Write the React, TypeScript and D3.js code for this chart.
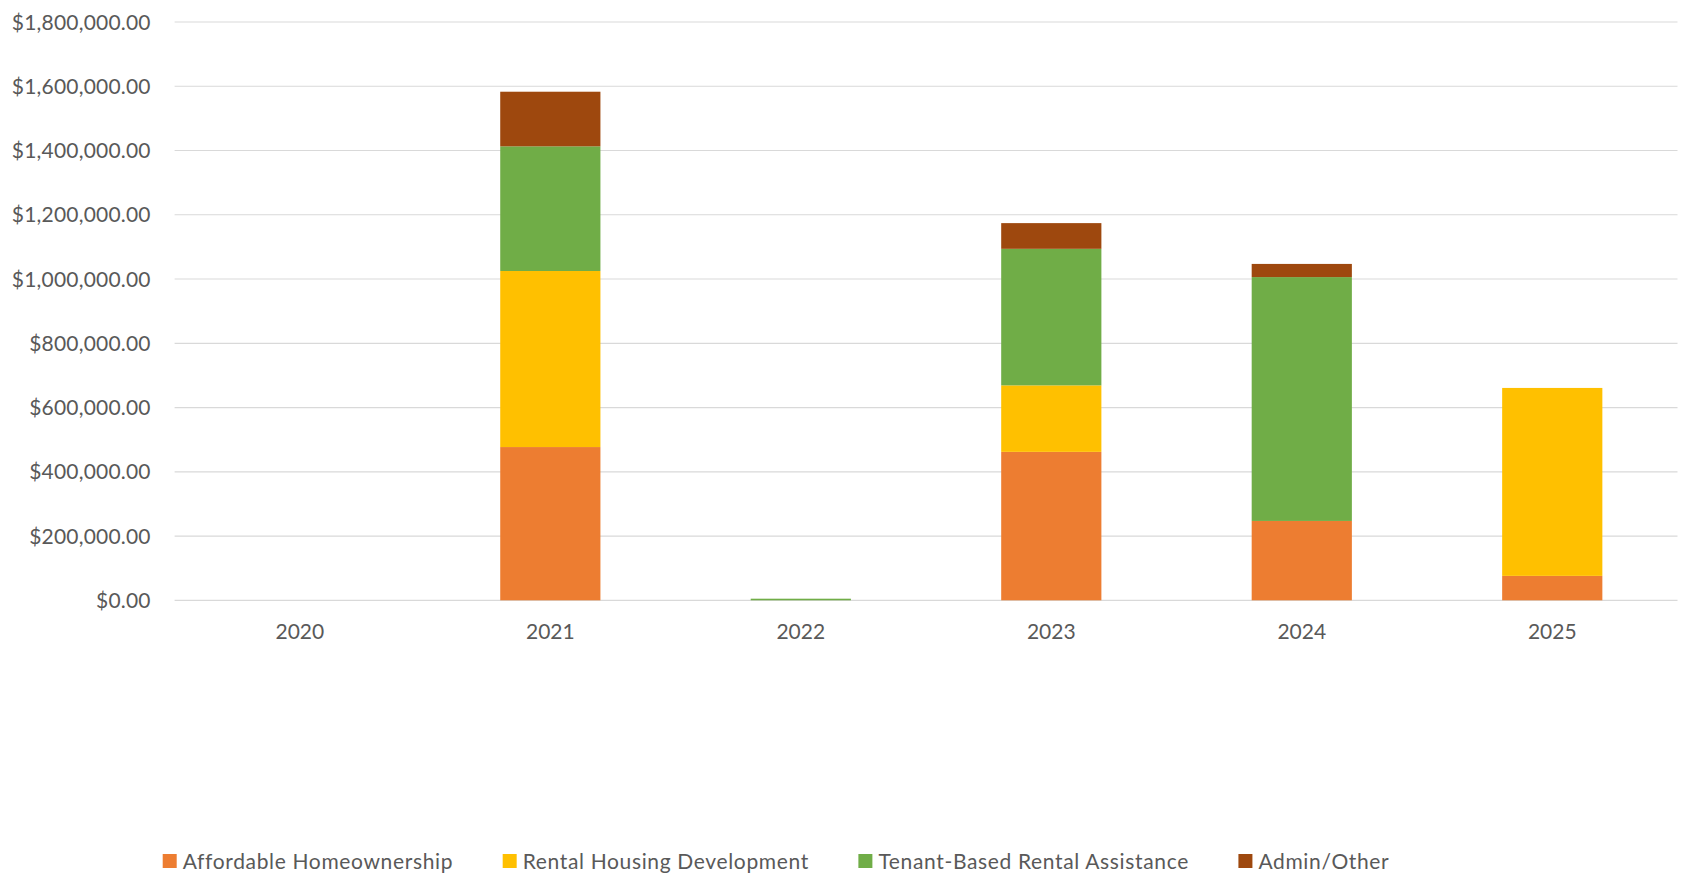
import React, { useEffect, useRef } from "react";
import * as d3 from "d3";

const years = ["2020", "2021", "2022", "2023", "2024", "2025"];
const affordableHomeownership = [0, 477000, 0, 462000, 247000, 76000];
const rentalHousingDevelopment = [0, 548000, 0, 207000, 0, 585000];
const tenantBasedRentalAssistance = [0, 388000, 5000, 425000, 759000, 0];
const adminOther = [0, 170000, 0, 80000, 41000, 0];
const seriesNames = [
  "Affordable Homeownership",
  "Rental Housing Development",
  "Tenant-Based Rental Assistance",
  "Admin/Other",
];
const seriesColors = ["#ED7D31", "#FFC000", "#70AD47", "#9E480E"];
const yTicks = [0, 200000, 400000, 600000, 800000, 1000000, 1200000, 1400000, 1600000, 1800000];

const W = 1687;
const H = 873;
const FONT = "Lato, 'Open Sans', sans-serif";
const TEXT = "#595959";

export default function App() {
  const ref = useRef<SVGSVGElement | null>(null);

  useEffect(() => {
    const svg = d3.select(ref.current);
    svg.selectAll("*").remove();

    const rows = years.map((y, i) => ({
      year: y,
      s0: affordableHomeownership[i],
      s1: rentalHousingDevelopment[i],
      s2: tenantBasedRentalAssistance[i],
      s3: adminOther[i],
    }));
    const keys = ["s0", "s1", "s2", "s3"];
    const stacked = d3.stack<any>().keys(keys)(rows);

    const x = d3
      .scaleBand<string>()
      .domain(years)
      .range([174.6, 1677.5])
      .paddingInner(0.6)
      .paddingOuter(0.3);
    const y = d3.scaleLinear().domain([0, 1800000]).range([600.3, 22]);

    const fmt = (v: number) => "$" + d3.format(",.2f")(v);

    // gridlines
    svg
      .append("g")
      .selectAll("line")
      .data(yTicks)
      .join("line")
      .attr("x1", 174.6)
      .attr("x2", 1677.5)
      .attr("y1", (d) => y(d))
      .attr("y2", (d) => y(d))
      .attr("stroke", "#d9d9d9")
      .attr("stroke-width", 1.2);

    // y labels
    svg
      .append("g")
      .selectAll("text")
      .data(yTicks)
      .join("text")
      .attr("x", 150.7)
      .attr("y", (d) => y(d))
      .attr("dy", "0.36em")
      .attr("text-anchor", "end")
      .attr("font-family", FONT)
      .attr("font-size", 21)
      .attr("letter-spacing", 0.2)
      .attr("fill", TEXT)
      .text((d) => fmt(d));

    // bars
    svg
      .append("g")
      .selectAll("g")
      .data(stacked)
      .join("g")
      .attr("fill", (_d, i) => seriesColors[i])
      .selectAll("rect")
      .data((d) => d.filter((p) => p[1] - p[0] > 0))
      .join("rect")
      .attr("x", (d: any) => x(d.data.year)!)
      .attr("width", x.bandwidth())
      .attr("y", (d: any) => y(d[1]))
      .attr("height", (d: any) => y(d[0]) - y(d[1]));

    // x labels
    svg
      .append("g")
      .selectAll("text")
      .data(years)
      .join("text")
      .attr("x", (d) => x(d)! + x.bandwidth() / 2)
      .attr("y", 631.7)
      .attr("dy", "0.36em")
      .attr("text-anchor", "middle")
      .attr("font-family", FONT)
      .attr("font-size", 21)
      .attr("fill", TEXT)
      .text((d) => d);

    // legend
    const lg = svg.append("g");
    let cx = 162.7;
    seriesNames.forEach((name, i) => {
      lg.append("rect")
        .attr("x", cx)
        .attr("y", 854)
        .attr("width", 14)
        .attr("height", 14)
        .attr("fill", seriesColors[i]);
      const t = lg
        .append("text")
        .attr("x", cx + 20)
        .attr("y", 861)
        .attr("dy", "0.36em")
        .attr("font-family", FONT)
        .attr("font-size", 21)
        .attr("letter-spacing", 0.65)
        .attr("fill", TEXT)
        .text(name);
      const w = (t.node() as SVGTextElement).getComputedTextLength();
      cx = cx + 20 + w + 49.5;
    });
  }, []);

  return (
    <svg
      ref={ref}
      width={W}
      height={H}
      style={{ position: "absolute", left: 0, top: 0, background: "#fff" }}
    />
  );
}
